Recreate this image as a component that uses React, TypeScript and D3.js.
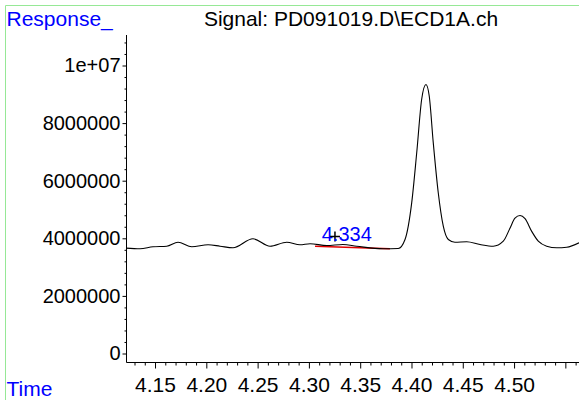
import * as d3 from "d3";
import { useEffect, useRef } from "react";

// chromatogram trace (time in min, response in counts)
const times = [
  4.1217, 4.1354, 4.148, 4.1614, 4.1724, 4.1858, 4.2017, 4.2134, 4.226, 4.2455,
  4.2621, 4.2784, 4.2913, 4.3011, 4.3174, 4.3332, 4.3466, 4.3722, 4.3871, 4.3937,
  4.4002, 4.4051, 4.4099, 4.4141, 4.4173, 4.4212, 4.4261, 4.431, 4.4359, 4.4424,
  4.4538, 4.4668, 4.4797, 4.4895, 4.496, 4.5009, 4.5058, 4.5107, 4.5172, 4.5236,
  4.5318, 4.5416, 4.5513, 4.5633,
];
const responses = [
  3660000, 3635000, 3705000, 3726000, 3865000, 3705000, 3774000, 3726000, 3670000, 3983000,
  3726000, 3865000, 3774000, 3809000, 3750000, 3785000, 3726000, 3635000, 3646000, 3958000,
  5230000, 6970000, 8820000, 9340000, 8940000, 7330000, 5580000, 4420000, 3958000, 3865000,
  3880000, 3785000, 3726000, 3900000, 4350000, 4700000, 4790000, 4680000, 4240000, 3900000,
  3726000, 3670000, 3690000, 3844000,
];

// integration baseline of the labelled peak
const baselineTimes = [4.306, 4.379];
const baselineValues = [3726000, 3635000];
const peakMarker = { time: 4.3254, value: 4060000, label: "4.334", labelTime: 4.334 };

const xMajor = [4.15, 4.2, 4.25, 4.3, 4.35, 4.4, 4.45, 4.5, 4.55];
const yMajor = [0, 2000000, 4000000, 6000000, 8000000, 10000000];

const title = "Signal: PD091019.D\\ECD1A.ch";
const font = "'Liberation Sans', Arial, sans-serif";

export default function App() {
  const width = 579,
    height = 400;
  const axisX = 126.5,
    axisY = 362.5,
    axisTop = 35;
  const xAxisRef = useRef<SVGGElement>(null);
  const yAxisRef = useRef<SVGGElement>(null);

  const xScale = d3.scaleLinear().domain([4.1217, 4.5633]).range([126, 579]);
  const yScale = d3.scaleLinear().domain([0, 1e7]).range([353.5, 65.5]);

  const line = d3
    .line<number>()
    .x((_, i) => xScale(times[i]))
    .y((d) => yScale(d))
    .curve(d3.curveMonotoneX);

  const baseLine = d3
    .line<number>()
    .x((_, i) => xScale(baselineTimes[i]))
    .y((d) => yScale(d));

  useEffect(() => {
    const gx = d3.select(xAxisRef.current);
    gx.selectAll("*").remove();
    const minorX = d3.range(4.13, 4.565, 0.01).filter(
      (t) => !xMajor.some((m) => Math.abs(m - t) < 1e-6)
    );
    gx.append("g").call(
      d3.axisBottom(xScale).tickValues(minorX).tickSize(3).tickFormat(() => "")
    );
    gx.append("g").call(
      d3
        .axisBottom(xScale)
        .tickValues(xMajor)
        .tickSize(6)
        .tickPadding(9)
        .tickFormat((d) => ((d as number) < 4.53 ? (d as number).toFixed(2) : ""))
    );
    gx.selectAll(".domain").remove();
    gx.selectAll("text").attr("font-size", 21).attr("font-family", font).attr("fill", "#000");

    const gy = d3.select(yAxisRef.current);
    gy.selectAll("*").remove();
    const minorY = d3.range(0, 11000001, 400000).filter((v) => v % 2000000 !== 0);
    gy.append("g").call(
      d3.axisLeft(yScale).tickValues(minorY).tickSize(2).tickFormat(() => "")
    );
    gy.append("g").call(
      d3
        .axisLeft(yScale)
        .tickValues(yMajor)
        .tickSize(4)
        .tickPadding(2)
        .tickFormat((d) => ((d as number) === 1e7 ? "1e+07" : String(d)))
    );
    gy.selectAll(".domain").remove();
    gy.selectAll("text").attr("font-size", 20).attr("font-family", font).attr("fill", "#000");
  }, []);

  const mx = xScale(peakMarker.time),
    my = yScale(peakMarker.value);

  return (
    <svg
      width={width}
      height={height}
      style={{ position: "fixed", left: 0, top: 0, background: "#fff" }}
    >
      <path d={`M5.5,${height} V5.5 H${width}`} fill="none" stroke="#96e896" />
      <text x={6.5} y={25.5} fontFamily={font} fontSize={21} fill="#0000ff">
        Response_
      </text>
      <text x={351} y={25.5} fontFamily={font} fontSize={21} textAnchor="middle" fill="#000">
        {title}
      </text>
      <text x={6.5} y={396} fontFamily={font} fontSize={21} fill="#0000ff">
        Time
      </text>

      <line x1={axisX} x2={axisX} y1={axisTop} y2={axisY} stroke="#000" />
      <line x1={axisX} x2={width} y1={axisY} y2={axisY} stroke="#000" />
      <g ref={yAxisRef} transform={`translate(${axisX},0)`} />
      <g ref={xAxisRef} transform={`translate(0,${axisY})`} />

      <path d={baseLine(baselineValues) ?? ""} fill="none" stroke="#e00000" strokeWidth={1.5} />
      <path d={line(responses) ?? ""} fill="none" stroke="#000" strokeWidth={1.1} />

      <path
        d={`M${mx - 5},${my} H${mx + 5} M${mx},${my - 5} V${my + 5}`}
        stroke="#000"
        strokeWidth={1.5}
      />
      <text
        x={xScale(peakMarker.labelTime) + 3}
        y={my + 4}
        fontFamily={font}
        fontSize={20}
        textAnchor="middle"
        fill="#0000ff"
      >
        {peakMarker.label}
      </text>
    </svg>
  );
}
